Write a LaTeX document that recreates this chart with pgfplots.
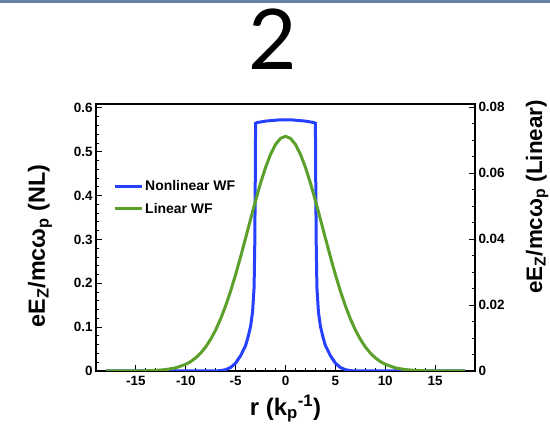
\documentclass[border=0pt]{standalone}
\usepackage{fontspec}
\setmainfont{Liberation Sans}
\newfontfamily\titlefont{Lato}
\usepackage{pgfplots}
\pgfplotsset{compat=1.18}
\definecolor{nlblue}{RGB}{38,64,255}
\definecolor{lingreen}{RGB}{92,160,44}
\definecolor{topbar}{RGB}{102,128,168}
\pgfplotsset{common/.style={scale only axis, width=379bp, height=267bp,
  at={(96bp,58bp)}, anchor=south west, xmin=-19, xmax=19,
  axis line style={line width=1.2bp},
  every tick/.style={black, line width=1bp},
  major tick length=6bp, minor tick length=3bp, tick align=inside,
  /pgf/number format/assume math mode=true,
  /pgf/number format/fixed, /pgf/number format/precision=2,
  tick label style={font=\bfseries\fontsize{13.5}{13.5}\selectfont},
  scaled ticks=false}}
\begin{document}
\begin{tikzpicture}
\useasboundingbox (0,0) rectangle (550bp,429bp);
\fill[topbar] (0,426bp) rectangle (550bp,429bp);
\node[font=\titlefont\fontsize{84}{84}\selectfont, anchor=base, inner sep=0pt] at (273bp,359bp) {2};
\begin{axis}[common, ymin=0, ymax=0.609,
  xtick={-15,-10,...,15}, minor x tick num=4,
  ytick={0,0.1,0.2,0.3,0.4,0.5,0.6}, minor y tick num=4,
  xtick pos=bottom, ytick pos=left,
  xticklabel style={yshift=-1.5bp},
  every axis x label/.style={at={(axis description cs:0.5,-0.165)}, anchor=base, font=\bfseries\fontsize{24}{24}\selectfont},
  xlabel={r (k\textsubscript{p}\textsuperscript{-1})},
  every axis y label/.style={at={(axis description cs:-0.135,0.468)}, anchor=base, rotate=90, font=\bfseries\fontsize{23.5}{23.5}\selectfont},
  ylabel={eE\textsubscript{Z}/mcω\textsubscript{p} (NL)},
  legend style={at={(axis description cs:0.045,0.722)}, anchor=north west, draw=none, fill=none,
    font=\bfseries\fontsize{14}{14}\selectfont, row sep=7bp, inner sep=0pt},
  legend cell align=left,
  legend image code/.code={\draw[#1, line width=3bp] (0bp,0bp) -- (27bp,0bp);},
]
\addplot[nlblue, line width=3bp] coordinates {
(-18,0) (-7,0) (-6.5,0.001) (-6,0.003) (-5.5,0.008) (-5,0.018) (-4.5,0.035) (-4,0.058)
(-3.75,0.078) (-3.5,0.102) (-3.3,0.135) (-3.15,0.19) (-3.08,0.29) (-3.03,0.44) (-3.0,0.565)
(-2.8,0.567) (-2.5,0.568) (-2,0.570) (-1.5,0.571) (-1,0.572) (-0.5,0.573) (0,0.573)
(0.5,0.573) (1,0.572) (1.5,0.571) (2,0.570) (2.5,0.568) (2.8,0.567)
(3.0,0.565) (3.03,0.44) (3.08,0.29) (3.15,0.19) (3.3,0.135) (3.5,0.102) (3.75,0.078)
(4,0.058) (4.5,0.035) (5,0.018) (5.5,0.008) (6,0.003) (6.5,0.001) (7,0) (18,0)
};
\addlegendentry{Nonlinear WF}
\addlegendimage{lingreen}
\addlegendentry{Linear WF}
\end{axis}
\begin{axis}[common, ymin=0, ymax=0.081,
  axis y line*=right, hide x axis,
  ytick={0,0.02,0.04,0.06,0.08}, minor y tick num=3,
  every axis y label/.style={at={(axis description cs:1.1768,0.652)}, anchor=base, rotate=90, font=\bfseries\fontsize{22.5}{22.5}\selectfont},
  ylabel={eE\textsubscript{Z}/mcω\textsubscript{p} (Linear)},
]
\addplot[lingreen, line width=3bp] coordinates {
(-18,0) (-16,0.00001) (-15,0.00002) (-14,0.00007) (-13,0.00018) (-12,0.00043) (-11,0.00096)
(-10,0.00203) (-9.5,0.00288) (-9,0.00400) (-8.5,0.00545) (-8,0.00732) (-7.5,0.00964)
(-7,0.01247) (-6.5,0.01585) (-6,0.01980) (-5.5,0.02429) (-5,0.02927) (-4.5,0.03466)
(-4,0.04031) (-3.5,0.04606) (-3,0.05170) (-2.5,0.05701) (-2,0.06176) (-1.5,0.06573)
(-1,0.06871) (-0.5,0.07057) (0,0.07120)
(0.5,0.07057) (1,0.06871) (1.5,0.06573) (2,0.06176) (2.5,0.05701) (3,0.05170)
(3.5,0.04606) (4,0.04031) (4.5,0.03466) (5,0.02927) (5.5,0.02429) (6,0.01980)
(6.5,0.01585) (7,0.01247) (7.5,0.00964) (8,0.00732) (8.5,0.00545) (9,0.00400)
(9.5,0.00288) (10,0.00203) (11,0.00096) (12,0.00043) (13,0.00018) (14,0.00007)
(15,0.00002) (16,0.00001) (18,0)
};
\end{axis}
\end{tikzpicture}
\end{document}
